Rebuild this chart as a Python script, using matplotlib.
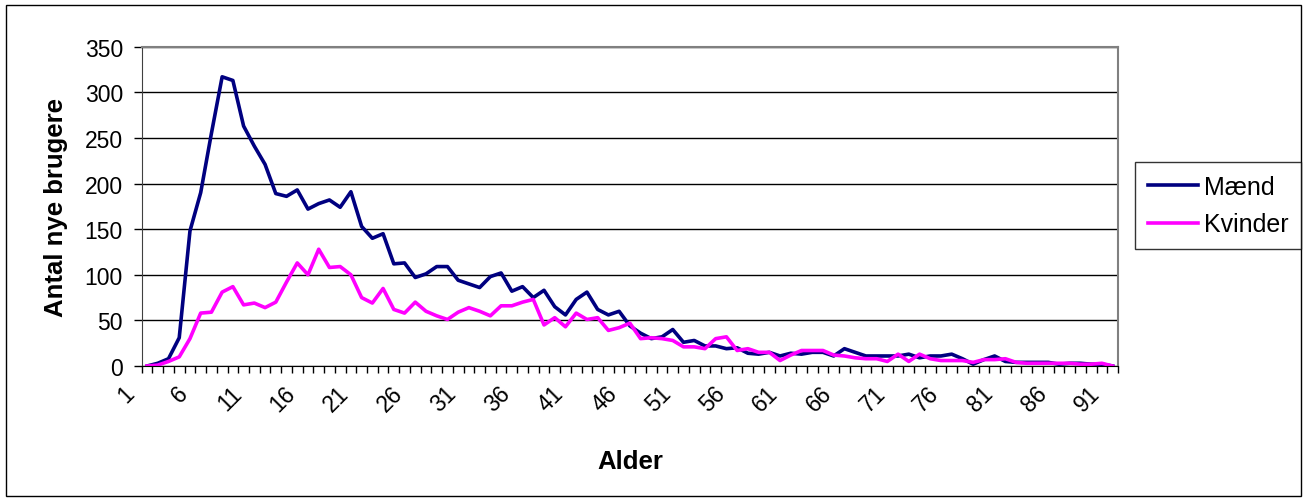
import matplotlib
matplotlib.use("Agg")
import matplotlib.pyplot as plt
import matplotlib.transforms as mtransforms
from matplotlib.patches import Rectangle

plt.rcParams['font.family'] = ['Liberation Sans', 'DejaVu Sans']

# Alder 1..91
ages = list(range(1, 92))

maend = [0, 3, 8, 31, 148, 190, 255, 317, 313, 263,
         241, 221, 189, 186, 193, 172, 178, 182, 174, 191,
         153, 140, 145, 112, 113, 97, 101, 109, 109, 94,
         90, 86, 98, 102, 82, 87, 75, 83, 65, 56,
         73, 81, 62, 56, 60, 44, 36, 30, 32, 40,
         26, 28, 22, 22, 19, 20, 14, 13, 15, 11,
         14, 13, 15, 15, 11, 19, 15, 11, 11, 11,
         11, 13, 9, 11, 11, 13, 8, 2, 7, 11,
         5, 4, 4, 4, 4, 2, 3, 3, 2, 2, 0]

kvinder = [0, 1, 5, 10, 30, 58, 59, 81, 87, 67,
           69, 64, 70, 92, 113, 100, 128, 108, 109, 100,
           75, 69, 85, 62, 58, 70, 60, 55, 51, 59,
           64, 60, 55, 66, 66, 70, 73, 45, 53, 43,
           58, 51, 53, 39, 42, 47, 30, 31, 30, 28,
           21, 21, 19, 30, 32, 17, 19, 15, 15, 6,
           12, 17, 17, 17, 12, 11, 9, 8, 8, 5,
           13, 5, 13, 8, 6, 6, 6, 4, 7, 7,
           8, 4, 3, 3, 3, 3, 3, 2, 2, 3, 0]

yticks = list(range(0, 351, 50))
label_ages = ages[::5]

fs_tick = 16.5
fs_lab = 18.5
fig = plt.figure(figsize=(13.07, 5.02), dpi=100)
ax = fig.add_axes([0.1084, 0.2689, 0.7470, 0.6361])

ax.plot(ages, maend, color='#000080', lw=2.6, label='Mænd')
ax.plot(ages, kvinder, color='#FF00FF', lw=2.6, label='Kvinder')

ax.set_xlim(0.5, 91.5)
ax.set_ylim(0, 350)
ax.set_yticks(yticks)
ax.yaxis.grid(True, color='black', lw=1)
ax.set_axisbelow(True)
ax.tick_params(axis='y', length=5.5, width=1, labelsize=fs_tick, pad=8)

# tick marks between categories, labels on every 5th category
ax.set_xticks([a - 0.5 for a in ages] + [ages[-1] + 0.5])
ax.tick_params(axis='x', which='major', length=5, width=1, labelbottom=False)
ax.set_xticks(label_ages, minor=True)
ax.set_xticklabels([str(a) for a in label_ages], minor=True, fontsize=fs_tick,
                   rotation=45, ha='right', va='center', rotation_mode='anchor')
ax.tick_params(axis='x', which='minor', length=0, pad=17)
offset = mtransforms.ScaledTranslation(-16 / 100, 0, fig.dpi_scale_trans)
for lab in ax.xaxis.get_minorticklabels():
    lab.set_transform(lab.get_transform() + offset)

for side in ['top', 'right']:
    ax.spines[side].set_color('#808080')
    ax.spines[side].set_linewidth(1.5)
ax.spines['left'].set_color('#404040')

ax.set_ylabel('Antal nye brugere', fontsize=fs_lab, fontweight='bold', labelpad=12)
ax.set_xlabel('Alder', fontsize=fs_lab, fontweight='bold', labelpad=24)

leg = fig.legend(loc='center', bbox_to_anchor=(0.9322, 0.5886), fontsize=18,
                 frameon=True, fancybox=False, edgecolor='black',
                 handlelength=2.0, handletextpad=0.25, labelspacing=0.55,
                 borderpad=0.5, borderaxespad=0)
leg.get_frame().set_linewidth(1)

fig.patches.append(Rectangle((6 / 1307, 5 / 502), 1295 / 1307, 491 / 502,
                             transform=fig.transFigure, fill=False,
                             edgecolor='black', lw=1))

fig.savefig('out.png', dpi=100)
